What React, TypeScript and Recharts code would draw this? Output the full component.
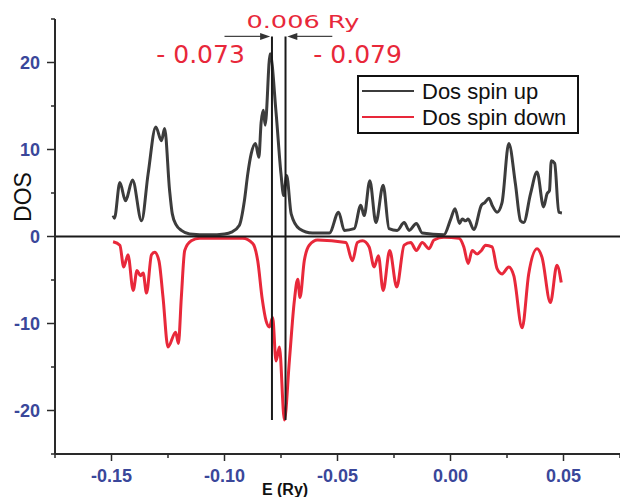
import React from "react";
import {
  LineChart,
  Line,
  XAxis,
  YAxis,
  Legend,
  ReferenceLine,
  ReferenceDot,
} from "recharts";

// Spin-up DOS (energy in Ry)
const upEnergy = [
  -0.1493, -0.1487, -0.1463, -0.1438, -0.1432, -0.1407, -0.1367, -0.1338, -0.1304, -0.1279,
  -0.1265, -0.1243, -0.1231, -0.1213, -0.1191, -0.1154, -0.1066, -0.1, -0.0969, -0.0934,
  -0.0912, -0.0897, -0.0882, -0.0863, -0.0848, -0.0838, -0.0828, -0.082, -0.0798, -0.0772,
  -0.075, -0.0738, -0.0725, -0.0705, -0.0669, -0.0611, -0.0536, -0.0495, -0.047, -0.0426,
  -0.0397, -0.0382, -0.0357, -0.033, -0.0298, -0.0272, -0.0236, -0.0205, -0.0183, -0.0151,
  -0.0125, -0.0029, 0.0001, 0.002, 0.004, 0.0052, 0.0067, 0.0078, 0.0103, 0.0137,
  0.0152, 0.017, 0.0184, 0.0206, 0.0228, 0.0258, 0.0287, 0.031, 0.0324, 0.0354,
  0.0383, 0.0412, 0.0427, 0.0438, 0.0446, 0.0461, 0.0479, 0.0493,
];
const upDos = [
  2.4, 2.1, 6.2, 4.1, 4.4, 6.5, 1.8, 7.2, 12.6, 11.0,
  12.4, 5.3, 2.6, 1.3, 0.7, 0.3, 0.2, 0.3, 0.5, 1.3,
  4.1, 7.2, 9.5, 10.7, 9.1, 13.1, 14.5, 12.8, 21.0, 14.3,
  7.2, 4.7, 7.0, 2.6, 0.9, 0.4, 0.4, 2.8, 0.7, 0.9,
  3.6, 2.4, 6.4, 1.6, 5.9, 0.9, 0.7, 1.6, 0.7, 1.5,
  0.4, 0.2, 2.0, 3.2, 1.5, 2.0, 1.8, 2.0, 0.8, 3.6,
  3.9, 4.4, 3.6, 2.8, 3.9, 10.7, 6.1, 1.8, 1.6, 4.9,
  7.4, 3.4, 4.9, 5.3, 8.7, 8.4, 2.8, 2.7,
];

// Spin-down DOS (energy in Ry)
const downEnergy = [
  -0.1493, -0.1463, -0.1446, -0.1427, -0.1404, -0.1387, -0.1372, -0.136, -0.1345, -0.1323,
  -0.1309, -0.129, -0.1272, -0.125, -0.1216, -0.1204, -0.1191, -0.1176, -0.1147, -0.111,
  -0.0919, -0.0875, -0.0853, -0.0833, -0.0816, -0.0801, -0.0787, -0.0772, -0.0757, -0.0735,
  -0.0713, -0.0691, -0.0676, -0.0666, -0.0647, -0.0625, -0.0588, -0.0463, -0.0434, -0.0412,
  -0.0389, -0.036, -0.0338, -0.0319, -0.0298, -0.0269, -0.0238, -0.0205, -0.0176, -0.0151,
  -0.0125, -0.0095, -0.0073, -0.0029, 0.0037, 0.0059, 0.0078, 0.0096, 0.0118, 0.0137,
  0.0155, 0.0184, 0.0206, 0.0228, 0.0258, 0.028, 0.0317, 0.0346, 0.0383, 0.0405,
  0.0442, 0.0471, 0.049,
];
const downDos = [
  -0.6, -1.0, -3.5, -2.1, -6.2, -3.9, -4.5, -4.2, -6.5, -2.1,
  -1.8, -2.8, -7.0, -12.7, -11.0, -12.3, -7.0, -1.6, -0.5, -0.2,
  -0.2, -0.8, -2.8, -7.2, -9.7, -10.4, -9.3, -14.3, -12.7, -21.1,
  -14.3, -7.4, -4.9, -7.0, -2.8, -1.0, -0.4, -0.7, -2.8, -0.7,
  -0.5, -1.2, -3.5, -2.2, -6.2, -1.6, -5.8, -1.0, -0.7, -1.6,
  -0.7, -1.4, -0.4, -0.1, -0.2, -1.2, -3.1, -1.6, -2.0, -1.6,
  -1.0, -1.2, -3.7, -4.3, -3.5, -4.5, -10.5, -4.3, -1.4, -2.4,
  -7.6, -3.3, -5.3,
];

const seriesNames = ["Dos spin up", "Dos spin down"];
const xTicks = [-0.175, -0.15, -0.125, -0.1, -0.075, -0.05, -0.025, 0, 0.025, 0.05, 0.075];
const yTicks = [-25, -20, -15, -10, -5, 0, 5, 10, 15, 20, 25];

// Marked energy levels and the gap between them
const levelA = -0.079;
const levelB = -0.073;
const levelTop = 23;
const levelBottom = -21.1;

const spinUp = upEnergy.map((e, i) => ({ e, dos: upDos[i] }));
const spinDown = downEnergy.map((e, i) => ({ e, dos: downDos[i] }));

const BLUE = "#3a479a";
const RED = "#e8283a";
const GREY = "#3c3c3c";
const AXIS = "#2a2a2a";

function isMajor(v: number, step: number) {
  return Math.abs(Math.round(v / step) * step - v) < 1e-9;
}

function XTick({ x, y, payload }: any) {
  const v = payload.value;
  const major = isMajor(v, 0.05);
  return (
    <g>
      <line x1={x} y1={y} x2={x} y2={y + (major ? 7 : 4)} stroke={AXIS} strokeWidth={1.5} />
      {major && (
        <text
          x={x}
          y={y + 28}
          textAnchor="middle"
          fontFamily="'Liberation Sans', Arial, sans-serif"
          fontWeight="bold"
          fontSize={18}
          fill={BLUE}
        >
          {v.toFixed(2)}
        </text>
      )}
    </g>
  );
}

function YTick({ x, y, payload }: any) {
  const v = payload.value;
  const major = isMajor(v, 10);
  return (
    <g>
      <line x1={x} y1={y} x2={x - (major ? 8 : 4)} y2={y} stroke={AXIS} strokeWidth={1.5} />
      {major && (
        <text
          x={x - 15}
          y={y + 6.5}
          textAnchor="end"
          fontFamily="'Liberation Sans', Arial, sans-serif"
          fontWeight="bold"
          fontSize={18}
          fill={BLUE}
        >
          {v}
        </text>
      )}
    </g>
  );
}

// horizontal arrow that ends with a filled head at (x2, y2)
function Arrow(props: any) {
  const { x1, y1, x2, y2 } = props;
  const dir = x2 > x1 ? 1 : -1;
  const head = `${x2},${y2} ${x2 - dir * 10},${y2 - 3.5} ${x2 - dir * 10},${y2 + 3.5}`;
  return (
    <g>
      <line x1={x1} y1={y1} x2={x2 - dir * 8} y2={y2} stroke="#444" strokeWidth={1.3} />
      <polygon points={head} fill="#333" />
    </g>
  );
}

function labelText(text: string, size: number, width?: number) {
  return (props: any) => (
    <text
      x={props.cx}
      y={props.cy}
      textAnchor="middle"
      fontFamily="'DejaVu Sans', Verdana, sans-serif"
      fontSize={size}
      fill={RED}
      textLength={width}
      lengthAdjust={width ? "spacingAndGlyphs" : undefined}
    >
      {text}
    </text>
  );
}

function LegendBox({ payload }: any) {
  const items = seriesNames
    .map((n) => (payload || []).find((p: any) => p.value === n))
    .filter(Boolean);
  return (
    <svg width={222} height={59}>
      <rect x={1} y={1} width={220} height={57} fill="#fff" stroke="#111" strokeWidth={2} />
      {items.map((p: any, i: number) => (
        <g key={p.value}>
          <line x1={5} x2={57} y1={16 + i * 26} y2={16 + i * 26} stroke={p.color} strokeWidth={2} />
          <text
            x={65}
            y={24 + i * 26}
            fontFamily="'Liberation Sans', Arial, sans-serif"
            fontSize={22}
            fill="#111"
          >
            {p.value}
          </text>
        </g>
      ))}
    </svg>
  );
}

export default function App() {
  return (
    <div style={{ position: "absolute", left: 0, top: 0, background: "#fff" }}>
      <LineChart width={620} height={497} margin={{ top: 19, right: 0, bottom: 0, left: 0 }}>
        <XAxis
          type="number"
          dataKey="e"
          domain={[-0.175, 0.075]}
          ticks={xTicks}
          interval={0}
          tickSize={0}
          tickMargin={0}
          tickLine={false}
          tick={<XTick />}
          axisLine={{ stroke: AXIS, strokeWidth: 2 }}
          height={43}
          label={{
            content: () => (
              <text
                x={285}
                y={495}
                textAnchor="middle"
                fontFamily="'Liberation Sans', Arial, sans-serif"
                fontWeight="bold"
                fontSize={16}
                fill="#111"
              >
                E (Ry)
              </text>
            ),
          }}
        />
        <YAxis
          type="number"
          domain={[-25, 25]}
          ticks={yTicks}
          interval={0}
          tickSize={0}
          tickMargin={0}
          tickLine={false}
          tick={<YTick />}
          axisLine={{ stroke: AXIS, strokeWidth: 2 }}
          width={55}
          label={{
            content: () => (
              <text
                x={31}
                y={197}
                transform="rotate(-90 31 197)"
                textAnchor="middle"
                fontFamily="'Liberation Sans', Arial, sans-serif"
                fontSize={23}
                fill="#111"
              >
                DOS
              </text>
            ),
          }}
        />
        <Legend
          layout="vertical"
          align="center"
          verticalAlign="middle"
          wrapperStyle={{ left: 357, top: 75, width: 222, height: 59 }}
          content={<LegendBox />}
        />
        <Line
          name={seriesNames[0]}
          data={spinUp}
          dataKey="dos"
          type="monotone"
          stroke={GREY}
          strokeWidth={3}
          dot={false}
          isAnimationActive={false}
        />
        <Line
          name={seriesNames[1]}
          data={spinDown}
          dataKey="dos"
          type="monotone"
          stroke={RED}
          strokeWidth={3}
          dot={false}
          isAnimationActive={false}
        />
        <ReferenceLine y={0} stroke="#1a1a1a" strokeWidth={2} />
        <ReferenceLine
          segment={[{ x: levelA, y: levelTop }, { x: levelA, y: levelBottom }]}
          stroke="#1a1a1a"
          strokeWidth={2}
        />
        <ReferenceLine
          segment={[{ x: levelB, y: levelTop }, { x: levelB, y: levelBottom }]}
          stroke="#1a1a1a"
          strokeWidth={2}
        />
        <ReferenceLine
          segment={[{ x: -0.1, y: levelTop }, { x: levelA - 0.0008, y: levelTop }]}
          shape={Arrow}
        />
        <ReferenceLine
          segment={[{ x: -0.0523, y: levelTop }, { x: levelB + 0.0008, y: levelTop }]}
          shape={Arrow}
        />
        <ReferenceDot x={-0.0653} y={24} shape={labelText("0.006 Ry", 18, 113)} />
        <ReferenceDot x={-0.1106} y={19.9} shape={labelText("- 0.073", 25)} />
        <ReferenceDot x={-0.0411} y={19.9} shape={labelText("- 0.079", 25)} />
      </LineChart>
    </div>
  );
}
